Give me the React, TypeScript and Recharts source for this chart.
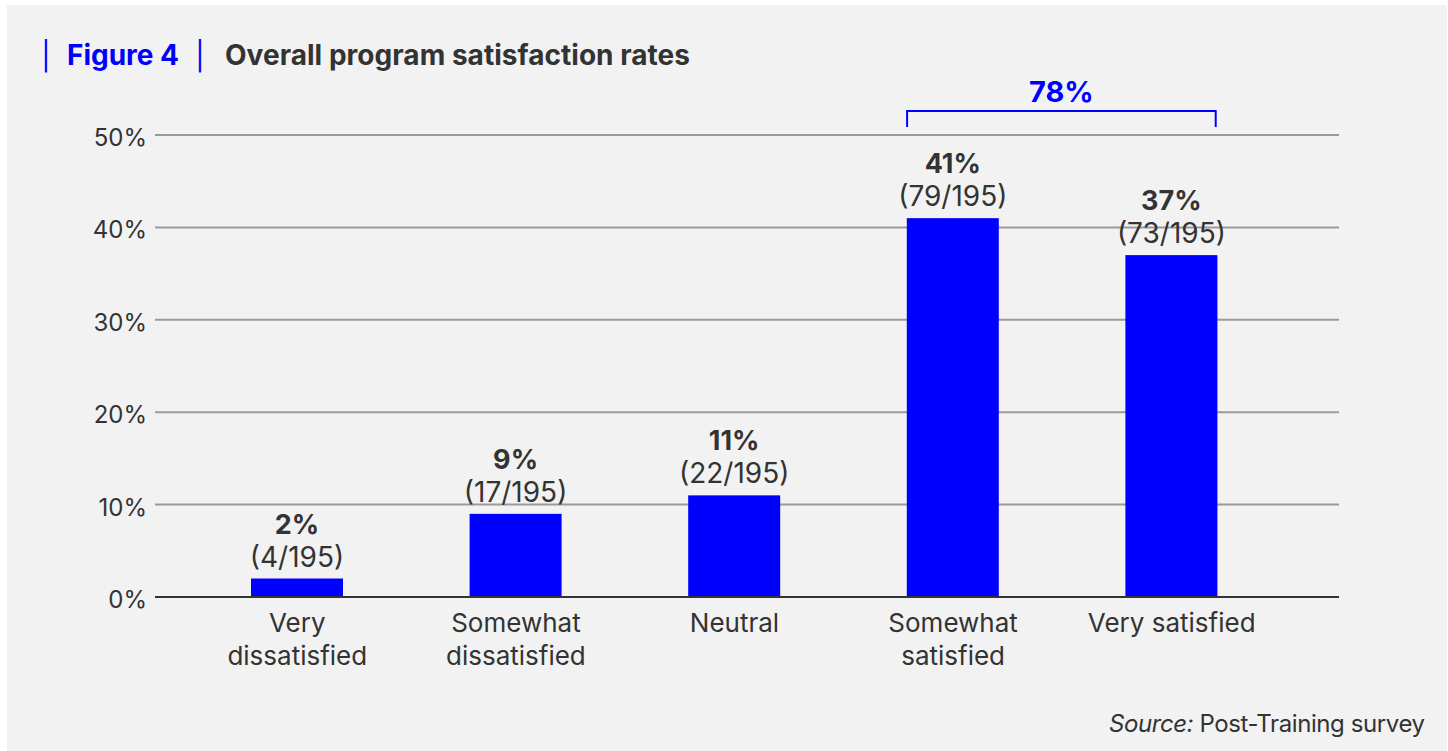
import React from 'react';
import { BarChart, Bar, XAxis, YAxis, CartesianGrid, ReferenceLine } from 'recharts';

const categories = ['Very dissatisfied', 'Somewhat dissatisfied', 'Neutral', 'Somewhat satisfied', 'Very satisfied'];
const categoryLines = [['Very', 'dissatisfied'], ['Somewhat', 'dissatisfied'], ['Neutral'], ['Somewhat', 'satisfied'], ['Very satisfied']];
const percents = [2, 9, 11, 41, 37];
const counts = [4, 17, 22, 79, 73];
const respondents = 195;
const yTicks = [0, 10, 20, 30, 40, 50];
const satisfiedGroup = ['Somewhat satisfied', 'Very satisfied'];
const satisfiedTotal = 78;
const bracketLevel = 52.6;

const data = categories.map((name, i) => ({ name, pct: percents[i], count: counts[i] }));

const BLUE = '#0000ff';
const INK = '#333333';
const GRID = '#9a9a9a';
const FONT = 'Inter, "Noto Sans", sans-serif';
const BAR_SIZE = 92;

function CategoryTick(props: any) {
  const { x, y, payload } = props;
  const lines = categoryLines[categories.indexOf(payload.value)] || [payload.value];
  return (
    <g>
      {lines.map((line, i) => (
        <text key={i} x={x} y={y + 35 + i * 33} textAnchor="middle" fontSize={26} fill={INK} fontFamily={FONT}>
          {line}
        </text>
      ))}
    </g>
  );
}

function PercentTick(props: any) {
  const { x, y, payload } = props;
  return (
    <text x={x} y={y + 11} textAnchor="end" fontSize={24} fill={INK} fontFamily={FONT}>
      {payload.value}%
    </text>
  );
}

function LabeledBar(props: any) {
  const { x, y, width, height, payload } = props;
  const cx = x + width / 2;
  return (
    <g>
      <rect x={x} y={y} width={width} height={height} fill={BLUE} />
      <text x={cx} y={y - 45} textAnchor="middle" fontSize={27} fontWeight={700} fill={INK} fontFamily={FONT}>
        {`${payload.pct}%`}
      </text>
      <text x={cx} y={y - 12} textAnchor="middle" fontSize={28} fill={INK} fontFamily={FONT}>
        {`(${payload.count}/${respondents})`}
      </text>
    </g>
  );
}

function Bracket(props: any) {
  const { x1, x2, y1 } = props;
  const left = x1 - BAR_SIZE / 2;
  const right = x2 + BAR_SIZE / 2 - 2;
  return (
    <g>
      <path d={`M${left},${y1 + 16}V${y1}H${right}V${y1 + 16}`} stroke={BLUE} strokeWidth={2} fill="none" />
      <text x={(left + right) / 2} y={y1 - 9} textAnchor="middle" fontSize={29} fontWeight={700} fill={BLUE} fontFamily={FONT}>
        {`${satisfiedTotal}%`}
      </text>
    </g>
  );
}

export default function App() {
  return (
    <div style={{ position: 'absolute', left: 7, top: 5, width: 1440, height: 746, background: '#f2f2f2' }}>
      <BarChart width={1440} height={746} data={data} margin={{ top: 130, right: 108, bottom: 124, left: 0 }}>
        <CartesianGrid vertical={false} stroke={GRID} strokeWidth={2} />
        <XAxis
          dataKey="name"
          interval={0}
          padding={{ left: 33, right: 58 }}
          tickLine={false}
          tickSize={0}
          tickMargin={0}
          axisLine={{ stroke: INK, strokeWidth: 2 }}
          tick={<CategoryTick />}
        />
        <YAxis
          type="number"
          domain={[0, 50]}
          ticks={yTicks}
          width={148}
          tickLine={false}
          axisLine={false}
          tickSize={0}
          tickMargin={8}
          tick={<PercentTick />}
        />
        <Bar dataKey="pct" barSize={BAR_SIZE} fill={BLUE} shape={<LabeledBar />} isAnimationActive={false} />
        <ReferenceLine
          segment={[{ x: satisfiedGroup[0], y: bracketLevel }, { x: satisfiedGroup[1], y: bracketLevel }]}
          ifOverflow="visible"
          shape={(p: any) => <Bracket {...p} />}
        />
      </BarChart>
      <svg width={1440} height={746} style={{ position: 'absolute', left: 0, top: 0, pointerEvents: 'none' }} fontFamily={FONT}>
        <text x={39} y={61} textAnchor="middle" fontSize={28} fill={BLUE}>|</text>
        <text x={60} y={60} fontSize={28} fontWeight={700} fill={BLUE} textLength={112} lengthAdjust="spacing">Figure 4</text>
        <text x={193} y={61} textAnchor="middle" fontSize={28} fill={BLUE}>|</text>
        <text x={218} y={60} fontSize={28} fontWeight={700} fill={INK} textLength={465} lengthAdjust="spacing">
          Overall program satisfaction rates
        </text>
        <text x={1102} y={727} fontSize={24} fill={INK} textLength={316} lengthAdjust="spacing">
          <tspan fontStyle="italic">Source:</tspan> Post-Training survey
        </text>
      </svg>
    </div>
  );
}
